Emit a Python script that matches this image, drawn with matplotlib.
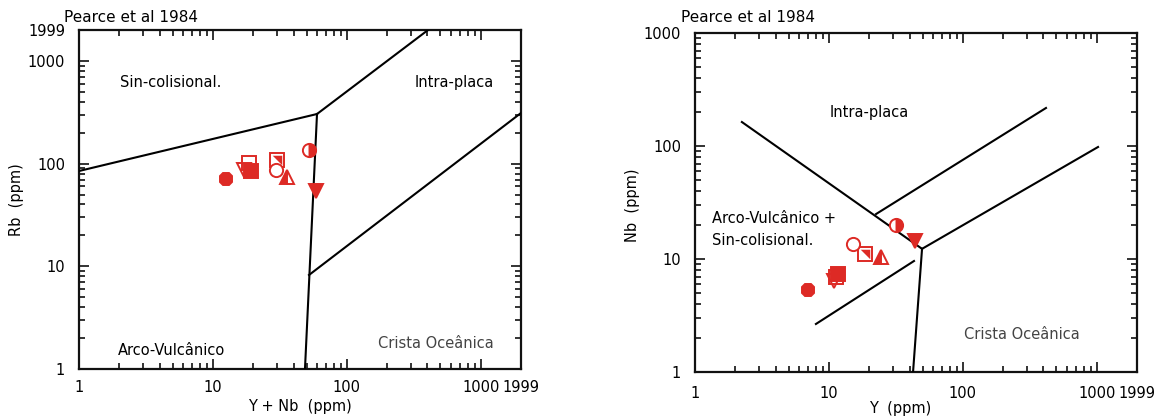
import matplotlib
matplotlib.use("Agg")
import matplotlib.pyplot as plt
from matplotlib.ticker import FixedLocator, LogLocator, NullFormatter, FixedFormatter
import numpy as np

RED = "#dd2a25"

# ---- sample symbols (style only) ----
sample_kinds = ['filled_circle', 'open_vtri', 'filled_square', 'open_square',
                'diag_square', 'open_circle', 'half_tri', 'half_circle', 'filled_vtri']

# ---- Left diagram: Rb vs Y+Nb ----
left_x = [12.5, 17.1, 19.3, 18.6, 30.1, 29.6, 35.8, 52.2, 58.9]
left_y = [70.8, 86.6, 84.7, 101, 108, 86.6, 74, 136, 54.1]

left_lines = [
    ([1, 59.9], [84.7, 304]),
    ([59.9, 404], [304, 1999]),
    ([59.9, 48.7], [304, 1]),
    ([52.2, 1999], [8.23, 311]),
]

# ---- Right diagram: Nb vs Y ----
right_x = [6.98, 10.9, 11.7, 11.3, 18.6, 15.1, 24.5, 31.7, 44.0]
right_y = [5.32, 6.39, 7.37, 6.93, 11.1, 13.6, 10.4, 20.0, 14.4]

right_lines = [
    ([2.24, 49.6], [163, 12.3]),
    ([49.6, 42.5], [12.3, 1]),
    ([49.6, 1023], [12.3, 98]),
    ([22.5, 418], [25.0, 217]),
    ([8.0, 43.2], [2.66, 9.6]),
]

x_ticks = [1, 10, 100, 1000, 1999]
x_ticklabels = ['1', '10', '100', '1000', '1999']
left_yticks = [1, 10, 100, 1000, 1999]
left_yticklabels = ['1', '10', '100', '1000', '1999']
right_yticks = [1, 10, 100, 1000]
right_yticklabels = ['1', '10', '100', '1000']

FS = 10.5
plt.rcParams['font.family'] = ['DejaVu Sans']

fig = plt.figure(figsize=(11.74, 4.17), dpi=100)
axL = fig.add_axes([79/1174, 1-369/417, (521-79)/1174, (369-30)/417])
axR = fig.add_axes([695/1174, 1-372/417, (1137-695)/1174, (372-33)/417])

diag_path = [(-1, 1), (1, 1), (1, -1), (-1, 1)]

def draw_sample(ax, kind, x, y):
    ms = 9.5
    mew = 1.4
    kw = dict(color=RED, markeredgecolor=RED, linestyle='none', markersize=ms,
              markeredgewidth=mew, zorder=5)
    if kind == 'filled_circle':
        ax.plot([x], [y], marker='8', **kw)
    elif kind == 'open_vtri':
        ax.plot([x], [y], marker='v', markerfacecolor='white', **kw)
    elif kind == 'filled_square':
        ax.plot([x], [y], marker='s', **kw)
    elif kind == 'open_square':
        ax.plot([x], [y], marker='s', markerfacecolor='none', **kw)
    elif kind == 'diag_square':
        ax.plot([x], [y], marker='s', markerfacecolor='white', **kw)
        kw2 = dict(kw); kw2['markersize'] = ms * 0.72; kw2['markeredgewidth'] = 0
        ax.plot([x], [y], marker=diag_path, **kw2)
    elif kind == 'open_circle':
        ax.plot([x], [y], marker='o', markerfacecolor='white', **kw)
    elif kind == 'half_tri':
        ax.plot([x], [y], marker='^', fillstyle='left', markerfacecoloralt='white', **kw)
    elif kind == 'half_circle':
        ax.plot([x], [y], marker='o', fillstyle='right', markerfacecoloralt='white', **kw)
    elif kind == 'filled_vtri':
        ax.plot([x], [y], marker='v', **kw)

def style_axes(ax, ymax, yticks, yticklabels, xpad):
    ax.set_xscale('log')
    ax.set_yscale('log')
    ax.set_xlim(1, 1999)
    ax.set_ylim(1, ymax)
    for s in ax.spines.values():
        s.set_linewidth(1.6)
        s.set_color('#111111')
    ax.xaxis.set_major_locator(FixedLocator(x_ticks))
    ax.xaxis.set_major_formatter(FixedFormatter(x_ticklabels))
    ax.yaxis.set_major_locator(FixedLocator(yticks))
    ax.yaxis.set_major_formatter(FixedFormatter(yticklabels))
    ax.xaxis.set_minor_locator(LogLocator(base=10, subs=np.arange(2, 10), numticks=20))
    ax.yaxis.set_minor_locator(LogLocator(base=10, subs=np.arange(2, 10), numticks=20))
    ax.xaxis.set_minor_formatter(NullFormatter())
    ax.yaxis.set_minor_formatter(NullFormatter())
    ax.tick_params(which='both', direction='in', top=True, right=True, width=1.2,
                   color='#111111')
    ax.tick_params(which='major', length=7, labelsize=FS)
    ax.tick_params(which='minor', length=4)
    ax.tick_params(axis='x', which='major', pad=xpad)
    ax.tick_params(axis='y', which='major', pad=10)

# Left
style_axes(axL, 1999, left_yticks, left_yticklabels, 8)
for xs, ys in left_lines:
    axL.plot(xs, ys, color='black', lw=1.5, zorder=3)
for k, x, y in zip(sample_kinds, left_x, left_y):
    draw_sample(axL, k, x, y)
axL.text(2.02, 623, 'Sin-colisional.', fontsize=FS, va='center', ha='left')
axL.text(323, 623, 'Intra-placa', fontsize=FS, va='center', ha='left')
axL.text(1.96, 1.53, 'Arco-Vulcânico', fontsize=FS, va='center', ha='left')
axL.text(171, 1.79, 'Crista Oceânica', fontsize=FS, va='center', ha='left', color='#444444')
fig.text(64/1174, 1-17/417, 'Pearce et al 1984', fontsize=FS + 0.5, va='center', ha='left')
fig.text(300/1174, 1-406/417, 'Y + Nb  (ppm)', fontsize=FS, va='center', ha='center')
fig.text(17/1174, 1-200/417, 'Rb  (ppm)', fontsize=FS, va='center', ha='center', rotation=90)

# Right
style_axes(axR, 1000, right_yticks, right_yticklabels, 10)
for xs, ys in right_lines:
    axR.plot(xs, ys, color='black', lw=1.5, zorder=3)
for k, x, y in zip(sample_kinds, right_x, right_y):
    draw_sample(axR, k, x, y)
axR.text(10.2, 196, 'Intra-placa', fontsize=FS, va='center', ha='left')
axR.text(1.34, 22.6, 'Arco-Vulcânico +', fontsize=FS, va='center', ha='left')
axR.text(1.34, 14.7, 'Sin-colisional.', fontsize=FS, va='center', ha='left')
axR.text(102, 2.13, 'Crista Oceânica', fontsize=FS, va='center', ha='left', color='#444444')
fig.text(681/1174, 1-18/417, 'Pearce et al 1984', fontsize=FS + 0.5, va='center', ha='left')
fig.text(900/1174, 1-408/417, 'Y  (ppm)', fontsize=FS, va='center', ha='center')
fig.text(632/1174, 1-205/417, 'Nb  (ppm)', fontsize=FS, va='center', ha='center', rotation=90)

fig.savefig('out.png', dpi=100)
